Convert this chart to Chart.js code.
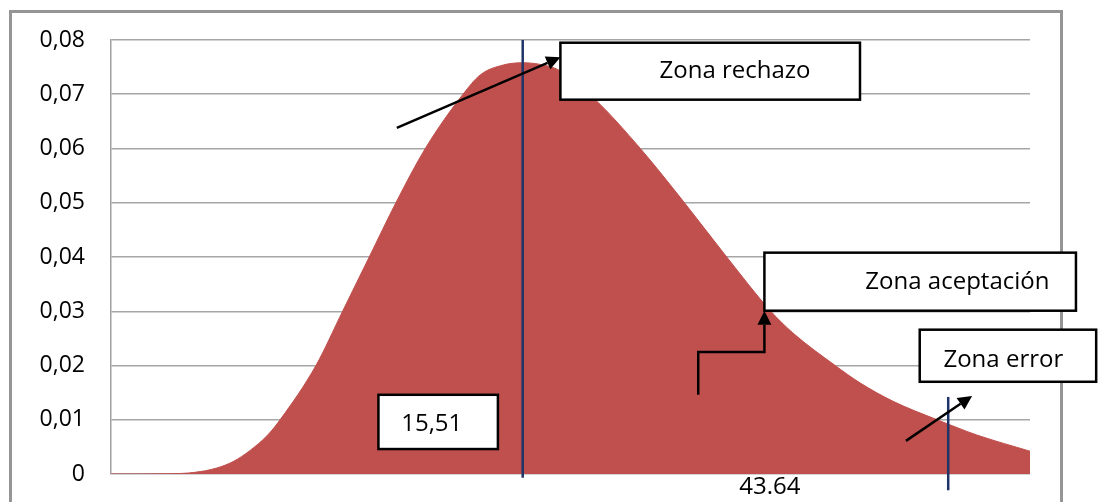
<!DOCTYPE html>
<html>
<head>
<meta charset="utf-8">
<script src="https://cdn.jsdelivr.net/npm/chart.js@4.4.1/dist/chart.umd.min.js"></script>
<style>
  html, body { margin: 0; padding: 0; background: #fff; overflow: hidden; }
  #wrap { position: relative; width: 1101px; height: 502px; }
  #marco { position: absolute; left: 9px; top: 10px; width: 1048px; height: 560px; border: 3px solid #959595; }
  #myChart { position: absolute; left: 0; top: 0; }
</style>
</head>
<body>
<div id="wrap">
  <div id="marco"></div>
  <canvas id="myChart" width="1101" height="502"></canvas>
</div>
<script>
// Datos de la curva
const xs = [0, 6.4, 9.1, 11.5, 13.3, 15.1, 17.0, 18.4, 22.3, 25.2, 28.1, 31.0, 34.2, 38.3, 40.2, 42.7, 44.8,
  46.7, 48.8, 52.7, 57.6, 62.4, 67.0, 71.8, 74.2, 78.8, 81.5, 85.1, 89.9, 94.2, 100];
const ys = [0, 0.00005, 0.0003, 0.0011, 0.0023, 0.0043, 0.0071, 0.010, 0.020, 0.030, 0.040, 0.050, 0.060, 0.070, 0.0736, 0.0754, 0.0758,
  0.0755, 0.0744, 0.069, 0.060, 0.050, 0.040, 0.030, 0.026, 0.020, 0.0168, 0.0134, 0.010, 0.0072, 0.0042];

// Etiquetas del eje Y
const yTickLabels = ['0', '0,01', '0,02', '0,03', '0,04', '0,05', '0,06', '0,07', '0,08'];

// Líneas verticales (valor crítico y error)
const lineasX = [44.8, 91.1];
const lineasY = [[-0.0007, 0.08], [-0.003, 0.0142]];

// Cuadros de texto: [x1, x2, yArriba, yAbajo, textoX, textoY, texto]
const cuadros = [
  [48.9, 81.5, 0.0795, 0.0690, 67.9, 0.0742, 'Zona rechazo'],
  [71.1, 105.0, 0.0408, 0.0301, 92.1, 0.0354, 'Zona aceptación'],
  [88.0, 107.2, 0.0266, 0.0170, 97.1, 0.0210, 'Zona error'],
  [29.1, 42.1, 0.0146, 0.0046, 34.9, 0.0092, '15,51']
];
const textoSuelto = [71.7, -0.0024, '43.64'];

// Flechas (lista de puntos, la última es la punta)
const flechas = [
  [[31.1, 0.0638], [48.9, 0.0768]],
  [[63.9, 0.0146], [63.9, 0.0225], [71.1, 0.0225], [71.1, 0.0301]],
  [[86.5, 0.0061], [93.7, 0.0144]]
];

const fuente = "'Open Sans', 'DejaVu Sans', sans-serif";

const anotaciones = {
  id: 'anotaciones',
  afterDraw(chart) {
    const ctx = chart.ctx;
    const sx = chart.scales.x, sy = chart.scales.y;
    ctx.save();
    // flechas
    ctx.strokeStyle = '#000';
    ctx.fillStyle = '#000';
    ctx.lineWidth = 2.5;
    flechas.forEach(function (f) {
      const pts = f.map(function (p) { return [sx.getPixelForValue(p[0]), sy.getPixelForValue(p[1])]; });
      const n = pts.length;
      const a = pts[n - 2], b = pts[n - 1];
      const ang = Math.atan2(b[1] - a[1], b[0] - a[0]);
      const largo = 14, ancho = 7;
      ctx.beginPath();
      ctx.moveTo(pts[0][0], pts[0][1]);
      for (let i = 1; i < n - 1; i++) ctx.lineTo(pts[i][0], pts[i][1]);
      ctx.lineTo(b[0] - Math.cos(ang) * largo, b[1] - Math.sin(ang) * largo);
      ctx.stroke();
      ctx.beginPath();
      ctx.moveTo(b[0], b[1]);
      ctx.lineTo(b[0] - Math.cos(ang) * largo - Math.sin(ang) * ancho, b[1] - Math.sin(ang) * largo + Math.cos(ang) * ancho);
      ctx.lineTo(b[0] - Math.cos(ang) * largo + Math.sin(ang) * ancho, b[1] - Math.sin(ang) * largo - Math.cos(ang) * ancho);
      ctx.closePath();
      ctx.fill();
    });
    // cuadros
    ctx.font = '24px ' + fuente;
    ctx.textAlign = 'center';
    ctx.textBaseline = 'middle';
    cuadros.forEach(function (c) {
      const x1 = sx.getPixelForValue(c[0]), x2 = sx.getPixelForValue(c[1]);
      const y1 = sy.getPixelForValue(c[2]), y2 = sy.getPixelForValue(c[3]);
      ctx.fillStyle = '#fff';
      ctx.fillRect(x1, y1, x2 - x1, y2 - y1);
      ctx.lineWidth = 2.5;
      ctx.strokeStyle = '#000';
      ctx.strokeRect(x1, y1, x2 - x1, y2 - y1);
      ctx.fillStyle = '#000';
      ctx.fillText(c[6], sx.getPixelForValue(c[4]), sy.getPixelForValue(c[5]));
    });
    ctx.fillText(textoSuelto[2], sx.getPixelForValue(textoSuelto[0]), sy.getPixelForValue(textoSuelto[1]));
    ctx.restore();
  }
};

const datasets = [];
lineasX.forEach(function (x, i) {
  datasets.push({
    data: [{ x: x, y: lineasY[i][0] }, { x: x, y: lineasY[i][1] }],
    borderColor: '#1F3468',
    borderWidth: 2.5,
    pointRadius: 0,
    fill: false,
    clip: false,
    order: 0
  });
});
datasets.push({
  data: xs.map(function (x, i) { return { x: x, y: ys[i] }; }),
  borderColor: '#C0504D',
  backgroundColor: '#C0504D',
  borderWidth: 1,
  pointRadius: 0,
  fill: 'origin',
  cubicInterpolationMode: 'monotone',
  order: 1
});

new Chart(document.getElementById('myChart'), {
  type: 'line',
  data: { datasets: datasets },
  plugins: [anotaciones],
  options: {
    responsive: false,
    animation: false,
    layout: { padding: { top: 40, right: 71, bottom: 28, left: 0 } },
    plugins: { legend: { display: false }, tooltip: { enabled: false } },
    scales: {
      x: { type: 'linear', min: 0, max: 100, display: false },
      y: {
        min: 0,
        max: 0.08,
        border: { display: true, color: '#a0a0a0', width: 1.5 },
        grid: { color: '#a6a6a6', lineWidth: 1.5, drawTicks: false },
        ticks: {
          stepSize: 0.01,
          padding: 26,
          color: '#000',
          font: { family: fuente, size: 23 },
          callback: function (v, i) { return yTickLabels[i]; }
        },
        afterFit: function (scale) {
          scale.width = 111;
          // el padding de las etiquetas no debe mover el área del gráfico
          scale.paddingTop = 0;
          scale.paddingBottom = 0;
        }
      }
    }
  }
});
</script>
</body>
</html>
